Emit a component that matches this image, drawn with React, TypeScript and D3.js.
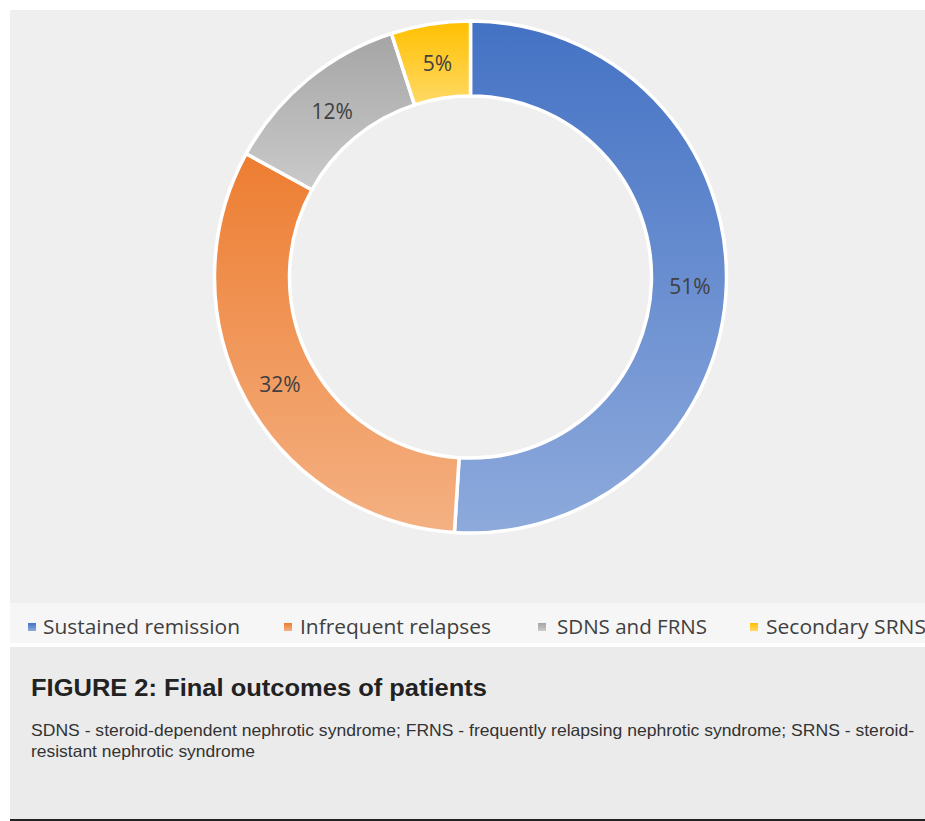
import React from "react";
import * as d3 from "d3";

const categories = ["Sustained remission", "Infrequent relapses", "SDNS and FRNS", "Secondary SRNS"];
const values = [51, 32, 12, 5];
const labels = ["51%", "32%", "12%", "5%"];
const topColors = ["#4472c4", "#ed7d31", "#a5a5a5", "#ffc000"];
const bottomColors = ["#8eaadc", "#f4b183", "#cacaca", "#ffd966"];
const legendTextX = [43, 300, 557, 766];
const legendTextLen = [197, 191, 150, 160];
const legendMarkerX = [28, 284, 538, 750];
const title = "FIGURE 2: Final outcomes of patients";
const noteLines = [
  "SDNS - steroid-dependent nephrotic syndrome; FRNS - frequently relapsing nephrotic syndrome; SRNS - steroid-",
  "resistant nephrotic syndrome",
];
const noteLengths = [883, 224];

export default function App() {
  const W = 925;
  const H = 821;
  const cx = 470.5;
  const cy = 277;
  const rOuter = 256;
  const rInner = 181;

  const pie = d3.pie<number>().sort(null).value((d) => d);
  const arcs = pie(values);
  const arc = d3.arc<d3.PieArcDatum<number>>().innerRadius(rInner).outerRadius(rOuter);
  const labelArc = d3
    .arc<d3.PieArcDatum<number>>()
    .innerRadius((rInner + rOuter) / 2)
    .outerRadius((rInner + rOuter) / 2);

  return (
    <div style={{ position: "absolute", left: 0, top: 0 }}>
      <svg width={W} height={H} style={{ display: "block" }}>
        <defs>
          {categories.map((c, i) => (
            <linearGradient key={c} id={`g${i}`} x1="0" y1="0" x2="0" y2="1">
              <stop offset="0%" stopColor={topColors[i]} />
              <stop offset="100%" stopColor={bottomColors[i]} />
            </linearGradient>
          ))}
        </defs>
        <rect x={0} y={0} width={W} height={H} fill="#ffffff" />
        <rect x={10} y={10} width={W - 10} height={593} fill="#efefef" />
        <rect x={10} y={603} width={W - 10} height={40} fill="#f6f6f6" />
        <rect x={10} y={647} width={W - 10} height={172} fill="#ebebeb" />
        <rect x={10} y={819} width={W - 10} height={2} fill="#222222" />

        <g transform={`translate(${cx},${cy})`}>
          {arcs.map((a, i) => (
            <path
              key={categories[i]}
              d={arc(a) || ""}
              fill={`url(#g${i})`}
              stroke="#ffffff"
              strokeWidth={3.5}
              strokeLinejoin="round"
            />
          ))}
          {arcs.map((a, i) => {
            const [lx, ly] = labelArc.centroid(a);
            return (
              <text
                key={labels[i]}
                x={lx + 1}
                y={ly + 2}
                textAnchor="middle"
                dominantBaseline="central"
                fontFamily="'Open Sans', sans-serif"
                fontSize={21}
                fill="#404040"
              >
                {labels[i]}
              </text>
            );
          })}
        </g>

        {categories.map((c, i) => (
          <g key={c}>
            <rect x={legendMarkerX[i]} y={623} width={8} height={8} fill={`url(#g${i})`} />
            <text
              x={legendTextX[i]}
              y={633.5}
              fontFamily="'Open Sans', sans-serif"
              fontSize={20}
              fill="#404040"
              textLength={legendTextLen[i]}
              lengthAdjust="spacingAndGlyphs"
            >
              {c}
            </text>
          </g>
        ))}

        <text
          x={31}
          y={696}
          fontFamily="'Liberation Sans', Arial, sans-serif"
          fontWeight="bold"
          fontSize={24}
          fill="#222222"
          textLength={456}
          lengthAdjust="spacingAndGlyphs"
        >
          {title}
        </text>
        {noteLines.map((line, i) => (
          <text
            key={i}
            x={31}
            y={735.5 + i * 21}
            fontFamily="'Liberation Sans', Arial, sans-serif"
            fontSize={16.5}
            fill="#333333"
            textLength={noteLengths[i]}
            lengthAdjust="spacingAndGlyphs"
          >
            {line}
          </text>
        ))}
      </svg>
    </div>
  );
}
